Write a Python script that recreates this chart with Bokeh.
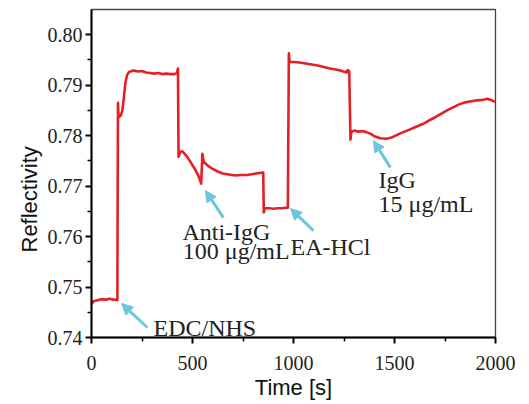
from bokeh.plotting import figure
from bokeh.models import (ColumnDataSource, Range1d, Arrow, NormalHead, FixedTicker,
                          CustomJSTickFormatter, LabelSet, Title)
from bokeh.embed import file_html
from bokeh.resources import INLINE

# SPR sensorgram: reflectivity vs. time during chip activation and IgG capture
time_s = [
    0, 10, 30, 50, 70, 90, 110, 128,
    131, 134, 145, 153, 160, 168, 176, 185, 208, 230, 250, 270, 290, 310,
    330, 350, 370, 390, 410, 422, 428,
    431, 440, 450, 470, 490, 510, 530, 543,
    549, 556, 574, 600, 625, 649, 680, 710, 740, 770, 800, 830, 850,
    853, 858, 880, 900, 920, 940, 960, 972,
    977, 981, 1000, 1030, 1060, 1090, 1120, 1150, 1180, 1210, 1240, 1262, 1268, 1276,
    1282, 1287, 1300, 1320, 1340, 1360, 1380, 1400, 1430, 1460, 1490, 1520,
    1550, 1580, 1610, 1640, 1670, 1700, 1730, 1760, 1790, 1820, 1850, 1880,
    1910, 1940, 1960, 1980, 2000,
]
reflectivity = [
    0.7466, 0.7472, 0.7474, 0.7476, 0.7475, 0.7477, 0.7475, 0.7474,
    0.7865, 0.7836, 0.7840, 0.7850, 0.7875, 0.7905, 0.7920, 0.7926, 0.7929, 0.7927, 0.7928, 0.7925, 0.7924, 0.7923,
    0.7924, 0.7922, 0.7923, 0.7922, 0.7922, 0.7924, 0.7933,
    0.7758, 0.7768, 0.7769, 0.7760, 0.7748, 0.7735, 0.7720, 0.7705,
    0.7764, 0.7748, 0.7741, 0.7734, 0.7729, 0.7725, 0.7723, 0.7721, 0.7722, 0.7722, 0.7724, 0.7726, 0.7727,
    0.7648, 0.7656, 0.7656, 0.7655, 0.7656, 0.7656, 0.7657, 0.7657,
    0.7963, 0.7946, 0.7946, 0.7945, 0.7943, 0.7941, 0.7939, 0.7936, 0.7933, 0.7931, 0.7928, 0.7925, 0.7930, 0.7927,
    0.7792, 0.7808, 0.7810, 0.7808, 0.7809, 0.7807, 0.7804, 0.7799, 0.7795, 0.7794, 0.7797, 0.7803,
    0.7808, 0.7813, 0.7818, 0.7823, 0.7830, 0.7836, 0.7843, 0.7850, 0.7856, 0.7862, 0.7866, 0.7868,
    0.7870, 0.7871, 0.7873, 0.7870, 0.7867,
]

x_ticks = [0, 500, 1000, 1500, 2000]
x_minor = [250, 750, 1250, 1750]
y_ticks = [0.74, 0.75, 0.76, 0.77, 0.78, 0.79, 0.80]
y_minor = [0.745, 0.755, 0.765, 0.775, 0.785, 0.795]

# injection labels and where their arrows point (time, reflectivity)
label_lines = ["EDC/NHS", "Anti-IgG", "100 \u03bcg/mL", "EA-HCl", "IgG", "15 \u03bcg/mL"]
label_t = [307, 450, 452, 985, 1421, 1421]
label_r = [0.7402, 0.7593, 0.7556, 0.7563, 0.7697, 0.7649]

arrow_tail_t = [277, 653, 1099, 1480]
arrow_tail_r = [0.74198, 0.76376, 0.76119, 0.77366]
arrow_head_t = [149, 564, 985, 1396]
arrow_head_r = [0.74673, 0.76911, 0.76554, 0.77901]

RED = "#e41f26"
CYAN = "#6cc6de"
SERIF = "'Liberation Serif', 'Times New Roman', serif"
SANS = "'Liberation Sans', Arial, sans-serif"

p = figure(width=529, height=404, output_backend="svg", toolbar_location=None,
           x_range=Range1d(0, 2000), y_range=Range1d(0.74, 0.805),
           min_border_left=91, min_border_right=34, min_border_top=9,
           min_border_bottom=67, background_fill_color="white",
           border_fill_color="white")

p.xgrid.grid_line_color = None
p.ygrid.grid_line_color = None
p.outline_line_color = "#444444"
p.outline_line_width = 1.3

p.xaxis.ticker = FixedTicker(ticks=x_ticks, minor_ticks=x_minor)
p.yaxis.ticker = FixedTicker(ticks=y_ticks, minor_ticks=y_minor)
p.yaxis.formatter = CustomJSTickFormatter(code="return tick.toFixed(2);")

for ax in (p.xaxis[0], p.yaxis[0]):
    ax.axis_line_color = "black"
    ax.axis_line_width = 2
    ax.major_tick_line_color = "black"
    ax.major_tick_line_width = 2
    ax.minor_tick_line_color = "black"
    ax.minor_tick_line_width = 1.5
    ax.major_tick_out = 6
    ax.major_tick_in = 0
    ax.minor_tick_out = 4
    ax.minor_tick_in = 0
    ax.major_label_text_font = SERIF
    ax.major_label_text_font_size = "20px"
    ax.major_label_text_font_style = "normal"
    ax.major_label_text_color = "#222222"
    ax.axis_label_text_font = SANS
    ax.axis_label_text_font_size = "22px"
    ax.axis_label_text_font_style = "normal"
    ax.axis_label_text_color = "#111111"

p.xaxis.axis_label = "Time [s]"
p.xaxis.major_label_standoff = 12
p.yaxis.major_label_standoff = 3
p.xaxis.axis_label_standoff = 2

# y title starts 85 px above the frame bottom
p.add_layout(Title(text="Reflectivity", align="left", offset=85, standoff=6,
                   text_font=SANS, text_font_size="22px", text_font_style="normal",
                   text_color="#111111"), "left")

p.line(time_s, reflectivity, line_color=RED, line_width=2.6, line_join="round")

arrows = ColumnDataSource(dict(x0=arrow_tail_t, y0=arrow_tail_r,
                               x1=arrow_head_t, y1=arrow_head_r))
p.add_layout(Arrow(source=arrows, x_start="x0", y_start="y0", x_end="x1", y_end="y1",
                   line_color=CYAN, line_width=3,
                   end=NormalHead(size=11, fill_color=CYAN, line_color=CYAN)))

labels = ColumnDataSource(dict(x=label_t, y=label_r, text=label_lines))
p.add_layout(LabelSet(x="x", y="y", text="text", source=labels, text_font=SERIF,
                      text_font_size="24px", text_color="#222222", text_align="left",
                      text_baseline="alphabetic"))

open("out.html", "w").write(file_html(p, INLINE))
